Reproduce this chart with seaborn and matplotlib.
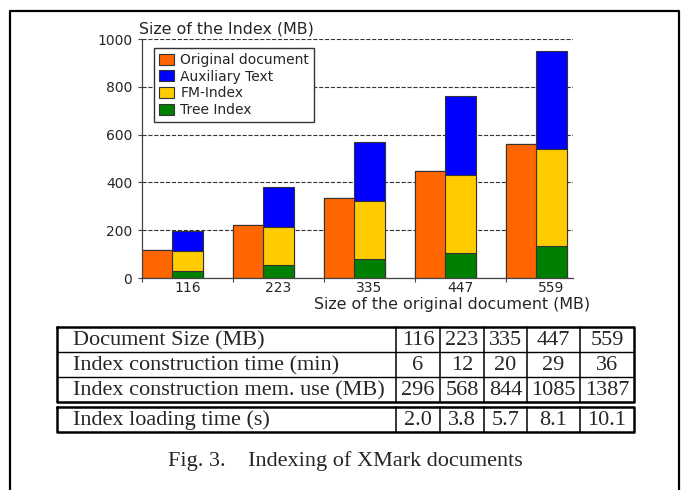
import numpy as np
import pandas as pd
import matplotlib.pyplot as plt
import seaborn as sns
from matplotlib.patches import Patch

# estilo
sns.set_style('ticks')
plt.rcParams['font.family'] = ['DejaVu Sans']

# datos del grafico (MB)
doc_sizes = ['116', '223', '335', '447', '559']
original_doc = [116, 223, 335, 447, 559]
tree_index = [30, 55, 80, 105, 132]
fm_index = [85, 160, 242, 327, 406]
aux_text = [83, 165, 248, 328, 412]

series_names = ['Original document', 'Auxiliary Text', 'FM-Index', 'Tree Index']
series_colors = ['#FF6600', '#0000FF', '#FFCC00', '#008000']

# datos de la tabla
table_rows = ['Document Size (MB)', 'Index construction time (min)',
              'Index construction mem. use (MB)']
table_vals = [['116', '223', '335', '447', '559'],
              ['6', '12', '20', '29', '36'],
              ['296', '568', '844', '1085', '1387']]
load_row = 'Index loading time (s)'
load_vals = ['2.0', '3.8', '5.7', '8.1', '10.1']
caption = 'Fig. 3.    Indexing of XMark documents'

W, H = 683, 490
fig = plt.figure(figsize=(W / 100, H / 100), dpi=100)
ax = fig.add_axes([142 / W, 1 - 278 / H, 431 / W, 239 / H])

# barras apiladas: se dibujan los acumulados de arriba hacia abajo
tops_fm = np.array(tree_index) + np.array(fm_index)
tops_aux = tops_fm + np.array(aux_text)
layers = [(tops_aux, series_colors[1]), (tops_fm, series_colors[2]),
          (np.array(tree_index), series_colors[3])]
for top, col in layers:
    df = pd.DataFrame({'size': doc_sizes * 2,
                       'part': ['orig'] * 5 + ['index'] * 5,
                       'value': list(original_doc) + list(top)})
    sns.barplot(data=df, x='size', y='value', hue='part', hue_order=['orig', 'index'],
                palette={'orig': series_colors[0], 'index': col}, width=0.67,
                saturation=1, dodge=True, errorbar=None, edgecolor='#333333',
                linewidth=0.8, legend=False, ax=ax, zorder=2)

n = len(doc_sizes)
ax.set_xlim(-0.335, 4.405)
ax.set_ylim(0, 1000)
ax.set_xticks([i - 0.335 for i in range(n)])
ax.set_xticklabels([])
ax.set_xticks([i + 0.165 for i in range(n)], minor=True)
ax.set_xticklabels(doc_sizes, minor=True)
ax.tick_params(axis='x', which='minor', length=0, pad=2, labelsize=10)
ax.tick_params(axis='x', which='major', length=3, width=0.8, color='#444444')
ax.set_yticks([0, 200, 400, 600, 800, 1000])
ax.tick_params(axis='y', length=3, width=0.8, color='#444444', pad=4, labelsize=10)
ax.set_xlabel('')
ax.set_ylabel('')
ax.yaxis.grid(True, linestyle='--', color='#333333', linewidth=0.8, zorder=0)
ax.set_axisbelow(True)
sns.despine(ax=ax)
for s in ['left', 'bottom']:
    ax.spines[s].set_color('#444444')
    ax.spines[s].set_linewidth(0.9)
ax.patch.set_alpha(0)

ax.text(-0.007, 1.025, 'Size of the Index (MB)', transform=ax.transAxes,
        ha='left', va='baseline', fontsize=11.4)
ax.text(1.04, -0.128, 'Size of the original document (MB)', transform=ax.transAxes,
        ha='right', va='baseline', fontsize=11.4)

handles = [Patch(facecolor=c, edgecolor='#333333', linewidth=0.8) for c in series_colors]
leg = ax.legend(handles, series_names, loc='upper left', bbox_to_anchor=(0.028, 0.962),
                borderaxespad=0, fancybox=False, edgecolor='#333333', framealpha=1,
                fontsize=10, labelspacing=0.2, handlelength=1.1, handleheight=0.85,
                handletextpad=0.45, borderpad=0.35)
leg.get_frame().set_linewidth(1.0)

# capa para la tabla, el marco y el pie de figura (coordenadas en pixeles)
ov = fig.add_axes([0, 0, 1, 1], zorder=-1)
ov.set_xlim(0, W)
ov.set_ylim(H, 0)
ov.axis('off')

# marco exterior
ov.plot([10, 10, 679, 679], [H, 11, 11, H], color='black', lw=1.6)

serif = ['Liberation Serif', 'DejaVu Serif']
col_x = [57, 396, 440, 484, 527, 580, 634]
row_y = [327, 352, 377, 402]
load_y = [407, 432]


def draw_block(ys, labels, values):
    x0, x1 = col_x[0], col_x[-1]
    for y in ys[1:-1]:
        ov.plot([x0, x1], [y, y], color='black', lw=1.0)
    for x in col_x[1:-1]:
        ov.plot([x, x], [ys[0], ys[-1]], color='black', lw=1.1)
    ov.plot([x0, x1, x1, x0, x0], [ys[0], ys[0], ys[-1], ys[-1], ys[0]],
            color='black', lw=1.8)
    for r, (lab, vals) in enumerate(zip(labels, values)):
        yc = (ys[r] + ys[r + 1]) / 2 + 1
        ov.text(73, yc, lab, ha='left', va='center', fontsize=16, family=serif)
        for c, v in enumerate(vals):
            xc = (col_x[c + 1] + col_x[c + 2]) / 2
            ov.text(xc, yc, v, ha='center', va='center', fontsize=16, family=serif)


draw_block(row_y, table_rows, table_vals)
draw_block(load_y, [load_row], [load_vals])

ov.text(345, 461, caption, ha='center', va='center', fontsize=16, family=serif)

fig.savefig('out.png', dpi=100)
